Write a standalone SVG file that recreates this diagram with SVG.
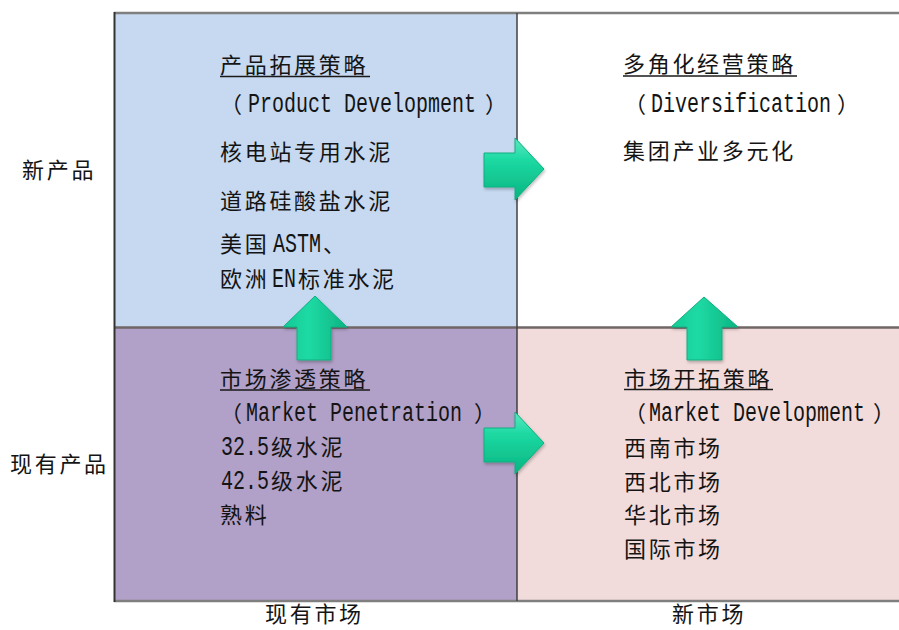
<svg xmlns="http://www.w3.org/2000/svg" width="899" height="630" viewBox="0 0 899 630">
  <style>
    text { font-family: "Liberation Mono", "Noto Sans CJK SC", monospace; font-size: 22px; fill: #141414; }
    .cj { letter-spacing: 2.7px; }
    .lt { font-size: 20px; letter-spacing: 0; }
    .ul { stroke: #1a1a1a; stroke-width: 1.5; }
    .arrow { stroke: #0eae80; stroke-width: 1; }
  </style>
  <defs>
    <linearGradient id="gR" x1="0" y1="0" x2="0" y2="1">
      <stop offset="0" stop-color="#5be9c1"/>
      <stop offset="0.35" stop-color="#1cd9a2"/>
      <stop offset="1" stop-color="#0ab481"/>
    </linearGradient>
    <linearGradient id="gU" x1="0" y1="0" x2="1" y2="0">
      <stop offset="0" stop-color="#13c995"/>
      <stop offset="0.4" stop-color="#1fdaa4"/>
      <stop offset="1" stop-color="#0bb482"/>
    </linearGradient>
    <filter id="sh" x="-20%" y="-20%" width="140%" height="140%">
      <feDropShadow dx="1" dy="2" stdDeviation="1.5" flood-color="#000" flood-opacity="0.25"/>
    </filter>
  </defs>

  <!-- quadrants -->
  <g id="product-development">
    <rect x="114" y="13" width="403" height="314" fill="#c6d9f1"/>
    <text x="220" y="73" class="cj">产品拓展策略</text>
    <line class="ul" x1="220" y1="76.5" x2="370" y2="76.5"/>
    <text x="220" y="112">（</text>
    <text class="lt" transform="translate(248,112) scale(1,1.4)">Product Development</text>
    <text x="485" y="112">）</text>
    <text x="220" y="160" class="cj">核电站专用水泥</text>
    <text x="220" y="209" class="cj">道路硅酸盐水泥</text>
    <text x="220" y="252" class="cj">美国</text>
    <text class="lt" transform="translate(273,252) scale(1,1.4)">ASTM</text>
    <text x="323" y="252">、</text>
    <text x="220" y="287" class="cj">欧洲</text>
    <text class="lt" transform="translate(272,287) scale(1,1.4)">EN</text>
    <text x="298" y="287" class="cj">标准水泥</text>
  </g>

  <g id="diversification">
    <rect x="517" y="13" width="382" height="314" fill="#ffffff"/>
    <text x="623" y="72" class="cj">多角化经营策略</text>
    <line class="ul" x1="623" y1="76" x2="797" y2="76"/>
    <text x="624" y="112">（</text>
    <text class="lt" transform="translate(651,112) scale(1,1.4)" letter-spacing="0.2">Diversification</text>
    <text x="837" y="112">）</text>
    <text x="623" y="159" class="cj">集团产业多元化</text>
  </g>

  <g id="market-penetration">
    <rect x="114" y="327" width="403" height="274" fill="#b1a0c7"/>
    <text x="220" y="387" class="cj">市场渗透策略</text>
    <line class="ul" x1="220" y1="390" x2="370" y2="390"/>
    <text x="220" y="421">（</text>
    <text class="lt" transform="translate(246,421) scale(1,1.4)" letter-spacing="0.3">Market Penetration</text>
    <text x="474" y="421">）</text>
    <text class="lt" transform="translate(221,455) scale(1,1.4)">32.5</text>
    <text x="271" y="455" class="cj">级水泥</text>
    <text class="lt" transform="translate(221,489) scale(1,1.4)">42.5</text>
    <text x="271" y="489" class="cj">级水泥</text>
    <text x="220" y="523" class="cj">熟料</text>
  </g>

  <g id="market-development">
    <rect x="517" y="327" width="382" height="274" fill="#f2dcdb"/>
    <text x="624" y="387" class="cj">市场开拓策略</text>
    <line class="ul" x1="624" y1="389.5" x2="773" y2="389.5"/>
    <text x="624" y="421">（</text>
    <text class="lt" transform="translate(649,421) scale(1,1.4)">Market Development</text>
    <text x="873" y="421">）</text>
    <text x="624" y="456" class="cj">西南市场</text>
    <text x="624" y="490" class="cj">西北市场</text>
    <text x="624" y="523" class="cj">华北市场</text>
    <text x="624" y="557" class="cj">国际市场</text>
  </g>

  <!-- grid lines -->
  <g id="grid" fill="none">
    <line x1="114" y1="13" x2="899" y2="13" stroke="#7f7f7f" stroke-width="2.5"/>
    <line x1="114" y1="601" x2="899" y2="601" stroke="#7f7f7f" stroke-width="2.5"/>
    <line x1="114" y1="327.5" x2="899" y2="327.5" stroke="#6f6666" stroke-width="2.5"/>
    <line x1="114.5" y1="12" x2="114.5" y2="602" stroke="#333333" stroke-width="2"/>
    <line x1="517" y1="13" x2="517" y2="601" stroke="#404040" stroke-width="1.5"/>
  </g>

  <!-- axis labels -->
  <g id="axis-labels">
    <text x="22" y="178" class="cj">新产品</text>
    <text x="10" y="472" class="cj">现有产品</text>
    <text x="265" y="622" class="cj">现有市场</text>
    <text x="672" y="622" class="cj">新市场</text>
  </g>

  <!-- connectors -->
  <g id="connectors" filter="url(#sh)">
    <path class="arrow" fill="url(#gR)" d="M484,153 L515,153 L515,138 L544,169 L515,200 L515,187 L484,187 Z"/>
    <path class="arrow" fill="url(#gR)" d="M484,428 L515,428 L515,412 L544,443 L515,474 L515,462 L484,462 Z"/>
    <path class="arrow" fill="url(#gU)" d="M315,296 L347,327 L331,327 L331,360 L297,360 L297,327 L283,327 Z"/>
    <path class="arrow" fill="url(#gU)" d="M704,297 L738,327 L722,327 L722,360 L687,360 L687,327 L671,327 Z"/>
  </g>
</svg>
